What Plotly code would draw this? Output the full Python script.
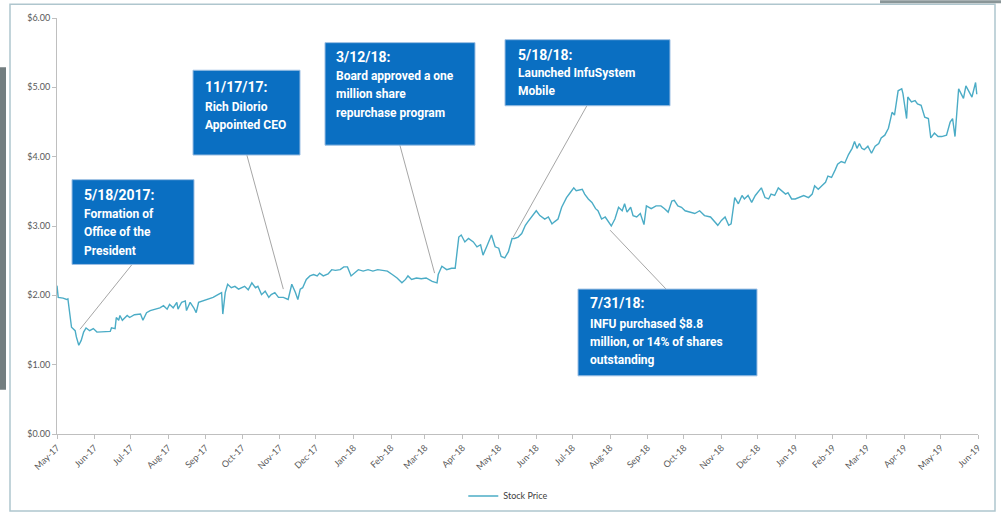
import plotly.graph_objects as go

# ---------------- data ----------------
dates = ['2017-05-01','2017-05-02','2017-05-06','2017-05-09','2017-05-10','2017-05-12','2017-05-13','2017-05-16','2017-05-17','2017-05-19',
'2017-05-21','2017-05-23','2017-05-25','2017-05-28','2017-05-31','2017-06-03','2017-06-08','2017-06-14','2017-06-15','2017-06-18',
'2017-06-19','2017-06-21','2017-06-22','2017-06-24','2017-06-28','2017-06-30','2017-07-04','2017-07-09','2017-07-11','2017-07-14',
'2017-07-17','2017-07-21','2017-07-25','2017-07-28','2017-07-31','2017-08-02','2017-08-05','2017-08-08','2017-08-09','2017-08-12',
'2017-08-15','2017-08-16','2017-08-19','2017-08-22','2017-08-24','2017-08-26','2017-08-30','2017-09-03','2017-09-07','2017-09-11',
'2017-09-14','2017-09-15','2017-09-17','2017-09-19','2017-09-22','2017-09-25','2017-09-28',
'2017-10-03','2017-10-06','2017-10-09','2017-10-12','2017-10-14','2017-10-17','2017-10-20','2017-10-23','2017-10-25','2017-10-28',
'2017-10-31','2017-11-04','2017-11-08','2017-11-11','2017-11-14','2017-11-16','2017-11-18','2017-11-20','2017-11-23','2017-11-26',
'2017-11-29','2017-12-02','2017-12-04','2017-12-07','2017-12-11','2017-12-14','2017-12-17','2017-12-21','2017-12-24','2017-12-27',
'2017-12-30','2018-01-02','2018-01-05','2018-01-09','2018-01-13','2018-01-17','2018-01-21','2018-01-25','2018-01-29','2018-02-02',
'2018-02-06','2018-02-10','2018-02-13','2018-02-15','2018-02-18','2018-02-22','2018-02-26','2018-03-02','2018-03-07','2018-03-11',
'2018-03-12','2018-03-15','2018-03-19','2018-03-23','2018-03-26','2018-03-29','2018-03-31','2018-04-03','2018-04-06','2018-04-10',
'2018-04-13','2018-04-16','2018-04-18','2018-04-21','2018-04-25','2018-04-28','2018-05-01','2018-05-03','2018-05-06','2018-05-09',
'2018-05-12','2018-05-14','2018-05-17','2018-05-20','2018-05-23','2018-05-25','2018-05-28','2018-06-01','2018-06-04','2018-06-08',
'2018-06-11','2018-06-14','2018-06-16','2018-06-19','2018-06-22','2018-06-26','2018-06-29','2018-07-02','2018-07-04','2018-07-09',
'2018-07-11','2018-07-14','2018-07-17','2018-07-20','2018-07-22','2018-07-25','2018-07-28','2018-07-31','2018-08-02','2018-08-05',
'2018-08-08','2018-08-11','2018-08-13','2018-08-15','2018-08-18','2018-08-20','2018-08-23','2018-08-26','2018-08-29','2018-08-31',
'2018-09-04','2018-09-08','2018-09-12','2018-09-15','2018-09-18','2018-09-21','2018-09-23','2018-09-26','2018-09-29','2018-10-02',
'2018-10-06','2018-10-10','2018-10-14','2018-10-18','2018-10-23','2018-10-27','2018-10-29','2018-11-01','2018-11-04','2018-11-07',
'2018-11-09','2018-11-12','2018-11-15','2018-11-18','2018-11-20','2018-11-23','2018-11-26','2018-11-29','2018-12-02','2018-12-04',
'2018-12-07','2018-12-10','2018-12-12','2018-12-15','2018-12-18','2018-12-21','2018-12-24','2018-12-26','2018-12-29','2019-01-01',
'2019-01-04','2019-01-08','2019-01-12','2019-01-15','2019-01-17','2019-01-20','2019-01-23','2019-01-26','2019-01-28','2019-01-31',
'2019-02-03','2019-02-05','2019-02-08','2019-02-11','2019-02-14','2019-02-17','2019-02-19','2019-02-21','2019-02-23','2019-02-25',
'2019-02-27','2019-03-02','2019-03-05','2019-03-08','2019-03-11','2019-03-13','2019-03-16','2019-03-19','2019-03-22','2019-03-24',
'2019-03-27','2019-03-30','2019-03-31','2019-04-03','2019-04-04','2019-04-07','2019-04-10','2019-04-12','2019-04-15','2019-04-18',
'2019-04-21','2019-04-23','2019-04-26','2019-04-29','2019-05-02','2019-05-06','2019-05-09','2019-05-11','2019-05-13','2019-05-15',
'2019-05-16','2019-05-18','2019-05-20','2019-05-22','2019-05-25','2019-05-27','2019-05-30','2019-05-31']

prices = [2.14,1.97,1.96,1.94,1.95,1.71,1.54,1.49,1.40,1.28,
1.35,1.47,1.53,1.49,1.52,1.47,1.47,1.48,1.53,1.52,
1.68,1.64,1.71,1.64,1.71,1.68,1.72,1.73,1.64,1.75,
1.78,1.80,1.82,1.85,1.80,1.87,1.82,1.90,1.80,1.90,
1.92,1.78,1.90,1.82,1.75,1.90,1.92,1.94,1.97,2.01,
2.04,1.73,2.04,2.16,2.11,2.13,2.09,
2.13,2.08,2.18,2.11,2.13,2.01,2.06,1.97,2.01,2.04,
1.97,1.97,1.94,2.16,2.04,1.94,2.09,2.11,2.23,2.28,
2.30,2.28,2.32,2.28,2.31,2.37,2.36,2.37,2.41,2.41,
2.28,2.32,2.37,2.35,2.37,2.35,2.37,2.36,2.35,2.30,
2.25,2.18,2.23,2.28,2.23,2.25,2.24,2.25,2.20,2.18,
2.30,2.42,2.37,2.39,2.39,2.84,2.87,2.77,2.82,2.77,
2.70,2.73,2.58,2.70,2.87,2.70,2.68,2.56,2.54,2.63,
2.82,2.82,2.84,2.89,3.01,3.06,3.13,3.22,3.15,3.10,
3.13,3.03,3.06,3.10,3.27,3.41,3.48,3.55,3.51,3.53,
3.46,3.39,3.34,3.25,3.22,3.10,3.13,3.06,3.00,3.10,
3.27,3.22,3.32,3.20,3.27,3.15,3.13,3.18,3.02,3.29,
3.25,3.29,3.29,3.25,3.20,3.36,3.37,3.29,3.27,3.22,
3.20,3.18,3.22,3.15,3.13,3.06,3.01,3.08,3.13,3.01,
3.03,3.41,3.32,3.44,3.39,3.44,3.34,3.44,3.51,3.55,
3.41,3.39,3.46,3.44,3.55,3.51,3.46,3.48,3.39,3.39,
3.41,3.44,3.41,3.46,3.58,3.53,3.58,3.63,3.72,3.70,
3.81,3.89,3.93,3.91,4.03,4.12,4.22,4.12,4.19,4.12,
4.10,4.15,4.05,4.15,4.19,4.27,4.31,4.41,4.64,4.60,
4.95,4.98,4.91,4.55,4.86,4.79,4.81,4.76,4.74,4.57,
4.55,4.27,4.34,4.29,4.29,4.31,4.50,4.55,4.29,4.69,
4.98,4.91,4.84,5.02,4.91,4.86,5.07,4.90]

series_name = 'Stock Price'
y_ticks = [0, 1, 2, 3, 4, 5, 6]

event_dates = ['2017-05-20', '2017-11-04', '2018-03-09', '2018-05-13', '2018-08-01']
event_prices = [1.51, 2.09, 2.32, 2.84, 2.94]
event_titles = ['5/18/2017:', '11/17/17:', '3/12/18:', '5/18/18:', '7/31/18:']
event_lines = [
    ['Formation of', 'Office of the', 'President'],
    ['Rich DiIorio', 'Appointed CEO'],
    ['Board approved a one', 'million share', 'repurchase program'],
    ['Launched InfuSystem', 'Mobile'],
    ['INFU purchased $8.8', 'million, or 14% of shares', 'outstanding'],
]

# ---------------- layout geometry (pixels) ----------------
W, H = 1001, 522
ML, MR, MT, MB = 57, 23, 18, 82
PW, PH = W - ML - MR, H - MT - MB

def px(x, y):
    return (x - ML) / PW, (H - MB - y) / PH

box_rects = [(72, 182, 194, 268), (193, 71, 300, 157), (325, 43, 475, 147),
             (505, 40, 670, 107), (578, 293, 757, 381)]
text_left = [82, 203, 334, 516, 588]
title_y = [198, 88, 58, 56, 307]
first_line_gap = [19, 20, 19, 18, 21]
line_step = 18.5
leader_dx = [53, -37, -35, 74, 57]      # pixel offset of box attach point from event point
leader_dy = [66, 136, 129, 132, -60]    # (up positive)

BLUE = '#0A6FC2'
LINE = '#4BACC6'
GRAY_TXT = '#595959'

fig = go.Figure()
fig.add_trace(go.Scatter(x=dates, y=prices, mode='lines', name=series_name,
                         line=dict(color=LINE, width=1.4)))

shapes = []
annotations = []

# outer frame and side decoration
x0, y0 = px(10, 4); x1, y1 = px(995, 518)
shapes.append(dict(type='rect', xref='paper', yref='paper', x0=x0, y0=y0, x1=x1, y1=y1,
                   line=dict(color='#AFC6CE', width=1.5), fillcolor='rgba(0,0,0,0)', layer='below'))
x0, y0 = px(0, 68); x1, y1 = px(6, 395)
shapes.append(dict(type='rect', xref='paper', yref='paper', x0=x0, y0=y0, x1=x1, y1=y1,
                   line=dict(width=0), fillcolor='#737E80', layer='below'))
x0, y0 = px(880, 0); x1, y1 = px(1001, 3)
shapes.append(dict(type='rect', xref='paper', yref='paper', x0=x0, y0=y0, x1=x1, y1=y1,
                   line=dict(width=0), fillcolor='#8A9698', layer='below'))

for i in range(len(event_dates)):
    # leader line
    shapes.append(dict(type='line', xref='x', yref='y', xsizemode='pixel', ysizemode='pixel',
                       xanchor=event_dates[i], yanchor=event_prices[i],
                       x0=0, y0=0, x1=leader_dx[i], y1=leader_dy[i],
                       line=dict(color='#A6A6A6', width=1)))
    bx0, by0, bx1, by1 = box_rects[i]
    a, b = px(bx0, by0); c, d = px(bx1, by1)
    shapes.append(dict(type='rect', xref='paper', yref='paper', x0=a, y0=d, x1=c, y1=b,
                       fillcolor=BLUE, line=dict(color='#9DBFE3', width=1)))
    tx, ty = px(text_left[i], title_y[i])
    annotations.append(dict(xref='paper', yref='paper', x=tx, y=ty, xanchor='left', yanchor='middle',
                            text='<b>' + event_titles[i] + '</b>', showarrow=False,
                            font=dict(family='Roboto', size=14, color='white')))
    for j, t in enumerate(event_lines[i]):
        yy = title_y[i] + first_line_gap[i] + j * line_step
        tx, ty = px(text_left[i], yy)
        annotations.append(dict(xref='paper', yref='paper', x=tx, y=ty, xanchor='left', yanchor='middle',
                                text='<b>' + t + '</b>', showarrow=False,
                                font=dict(family='Roboto', size=12, color='white')))

fig.update_layout(
    width=W, height=H,
    margin=dict(l=ML, r=MR, t=MT, b=MB),
    paper_bgcolor='white', plot_bgcolor='white',
    font=dict(family='Lato', color=GRAY_TXT),
    showlegend=True,
    legend=dict(orientation='h', x=0.49, xanchor='center', y=-0.149, yanchor='middle',
                font=dict(size=9, color='#404040'), bgcolor='rgba(0,0,0,0)'),
    xaxis=dict(type='date', range=['2017-05-01', '2019-06-01'], dtick='M1', tick0='2017-05-01',
               tickformat='%b-%y', tickangle=-45, showgrid=False, zeroline=False,
               showline=True, linecolor='#BFBFBF', linewidth=1, ticks='outside', ticklen=4,
               tickcolor='#BFBFBF', tickfont=dict(size=9, color=GRAY_TXT)),
    yaxis=dict(range=[0, 6], tickvals=y_ticks, tickformat='$.2f', showgrid=False, zeroline=False,
               showline=True, linecolor='#BFBFBF', linewidth=1, ticks='outside', ticklen=4,
               tickcolor='#BFBFBF', tickfont=dict(size=9, color=GRAY_TXT)),
    shapes=shapes,
    annotations=annotations,
)

fig.write_html('out.html')
